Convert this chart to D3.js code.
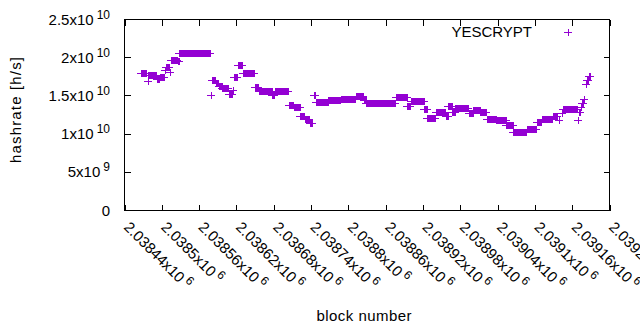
<!DOCTYPE html>
<meta charset="utf-8">
<style>
  body { margin: 0; background: #ffffff; }
  text { font-family: "Liberation Sans", Arial, sans-serif; font-size: 15px; fill: #000; }
</style>
<body>
<script src="https://d3js.org/d3.v7.min.js"></script>
<script>
// runs of blocks that share the same hashrate estimate: first block, last block, rate
var runStart = [2038466, 2038477, 2038478, 2038493, 2038497, 2038505, 2038506, 2038513, 2038514, 2038526,
                2038528, 2038579, 2038581, 2038587, 2038592, 2038597, 2038608, 2038614, 2038616, 2038622,
                2038630, 2038650, 2038656, 2038678, 2038682, 2038704, 2038712, 2038723, 2038730, 2038738,
                2038744, 2038748, 2038768, 2038788, 2038812, 2038825, 2038829, 2038834, 2038876, 2038895,
                2038900, 2038922, 2038927, 2038941, 2038957, 2038961, 2038967, 2038972, 2038994, 2039001,
                2039012, 2039023, 2039038, 2039054, 2039065, 2039087, 2039103, 2039111, 2039129, 2039139,
                2039143, 2039146, 2039169, 2039171, 2039174, 2039176, 2039179, 2039182, 2039184, 2039187];
var runEnd   = [2038474, 2038477, 2038491, 2038496, 2038504, 2038505, 2038512, 2038513, 2038525, 2038527,
                2038578, 2038579, 2038586, 2038591, 2038596, 2038607, 2038613, 2038615, 2038621, 2038629,
                2038649, 2038655, 2038677, 2038681, 2038703, 2038711, 2038722, 2038729, 2038737, 2038742,
                2038747, 2038767, 2038787, 2038811, 2038824, 2038828, 2038833, 2038875, 2038894, 2038899,
                2038921, 2038926, 2038940, 2038956, 2038960, 2038966, 2038971, 2038993, 2039000, 2039011,
                2039022, 2039037, 2039053, 2039064, 2039086, 2039102, 2039110, 2039128, 2039136, 2039139,
                2039143, 2039168, 2039169, 2039172, 2039174, 2039177, 2039179, 2039182, 2039185, 2039188];
var runRate  = [1.80e10, 1.70e10, 1.78e10, 1.715e10, 1.75e10, 1.845e10, 1.88e10, 1.81e10, 1.975e10, 1.957e10,
                2.066e10, 1.51e10, 1.706e10, 1.667e10, 1.634e10, 1.598e10, 1.53e10, 1.575e10, 1.75e10, 1.90e10,
                1.806e10, 1.61e10, 1.562e10, 1.517e10, 1.558e10, 1.376e10, 1.35e10, 1.237e10, 1.202e10, 1.146e10,
                1.51e10, 1.415e10, 1.445e10, 1.455e10, 1.497e10, 1.452e10, 1.406e10, 1.402e10, 1.484e10, 1.37e10,
                1.428e10, 1.324e10, 1.207e10, 1.285e10, 1.243e10, 1.367e10, 1.293e10, 1.337e10, 1.272e10, 1.315e10,
                1.285e10, 1.194e10, 1.185e10, 1.12e10, 1.032e10, 1.068e10, 1.155e10, 1.194e10, 1.243e10, 1.185e10,
                1.272e10, 1.324e10, 1.185e10, 1.285e10, 1.358e10, 1.41e10, 1.458e10, 1.654e10, 1.706e10, 1.764e10];

var xTicks = [2038440, 2038500, 2038560, 2038620, 2038680, 2038740, 2038800,
              2038860, 2038920, 2038980, 2039040, 2039100, 2039160, 2039220];
var xTickMant = ["2.03844", "2.0385", "2.03856", "2.03862", "2.03868", "2.03874", "2.0388",
                 "2.03886", "2.03892", "2.03898", "2.03904", "2.0391", "2.03916", "2.03922"];
var yTicks = [0, 5e9, 1e10, 1.5e10, 2e10, 2.5e10];
var yTickMant = ["0", "5", "1", "1.5", "2", "2.5"];
var yTickExp = ["", "9", "10", "10", "10", "10"];

var seriesName = "YESCRYPT";
var color = "#9400d3";

// one point per block
var points = [];
runStart.forEach(function(s, i) {
  for (var b = s; b <= runEnd[i]; b++) points.push({block: b, rate: runRate[i]});
});

var width = 640, height = 330;
var plot = {left: 124.5, right: 609.5, top: 19.5, bottom: 210.5};

var x = d3.scaleLinear().domain([2038440, 2039220]).range([plot.left, plot.right]);
var y = d3.scaleLinear().domain([0, 2.5e10]).range([plot.bottom, plot.top]);

var svg = d3.select("body").append("svg")
    .attr("width", width)
    .attr("height", height);

var plus = "M-4,0H4M0,-3.5V3.5";

// points
svg.append("g")
    .selectAll("path")
    .data(points)
    .enter().append("path")
    .attr("d", plus)
    .attr("transform", function(d) { return "translate(" + Math.round(x(d.block)) + "," + Math.round(y(d.rate)) + ")"; })
    .style("fill", "none")
    .style("stroke", color)
    .style("stroke-width", 1)
    .style("shape-rendering", "crispEdges");

// ticks (inward, mirrored)
var ticks = svg.append("g").style("stroke", "#000").style("stroke-width", 1).style("shape-rendering", "crispEdges");
xTicks.forEach(function(t) {
  var px = Math.round(x(t)) + 0.5;
  ticks.append("line").attr("x1", px).attr("x2", px).attr("y1", plot.bottom).attr("y2", plot.bottom - 6);
  ticks.append("line").attr("x1", px).attr("x2", px).attr("y1", plot.top).attr("y2", plot.top + 6);
});
yTicks.forEach(function(t) {
  var py = Math.round(y(t) - 0.5) + 0.5;
  ticks.append("line").attr("x1", plot.left).attr("x2", plot.left + 6).attr("y1", py).attr("y2", py);
  ticks.append("line").attr("x1", plot.right).attr("x2", plot.right - 6).attr("y1", py).attr("y2", py);
});

// border
svg.append("rect")
    .attr("x", plot.left).attr("y", plot.top)
    .attr("width", plot.right - plot.left).attr("height", plot.bottom - plot.top)
    .style("fill", "none").style("stroke", "#000").style("stroke-width", 1)
    .style("shape-rendering", "crispEdges");

// y tick labels
yTicks.forEach(function(t, i) {
  var tx = svg.append("text")
      .attr("x", 110).attr("y", y(t) + 5)
      .attr("text-anchor", "end");
  tx.append("tspan").text(yTickMant[i] + (yTickExp[i] ? "x10" : ""));
  if (yTickExp[i]) {
    tx.append("tspan").attr("dx", 3).attr("dy", -6).style("font-size", "12px").text(yTickExp[i]);
  }
});

// x tick labels, rotated
xTicks.forEach(function(t, i) {
  var tx = svg.append("text")
      .attr("transform", "translate(" + (x(t) - 1.5) + ",228) rotate(45)");
  tx.append("tspan").text(xTickMant[i] + "x10");
  tx.append("tspan").attr("dx", 3).attr("dy", -6).style("font-size", "12px").text("6");
});

// axis titles
svg.append("text")
    .attr("transform", "translate(21,110) rotate(-90)")
    .attr("text-anchor", "middle")
    .attr("textLength", 106)
    .text("hashrate [h/s]");

svg.append("text")
    .attr("x", 364).attr("y", 321)
    .attr("text-anchor", "middle")
    .attr("textLength", 95)
    .text("block number");

// legend
svg.append("text")
    .attr("x", 532).attr("y", 37)
    .attr("text-anchor", "end")
    .text(seriesName);
svg.append("path")
    .attr("d", plus)
    .attr("transform", "translate(568,32)")
    .style("fill", "none").style("stroke", color).style("stroke-width", 1)
    .style("shape-rendering", "crispEdges");
</script>
</body>
</html>
